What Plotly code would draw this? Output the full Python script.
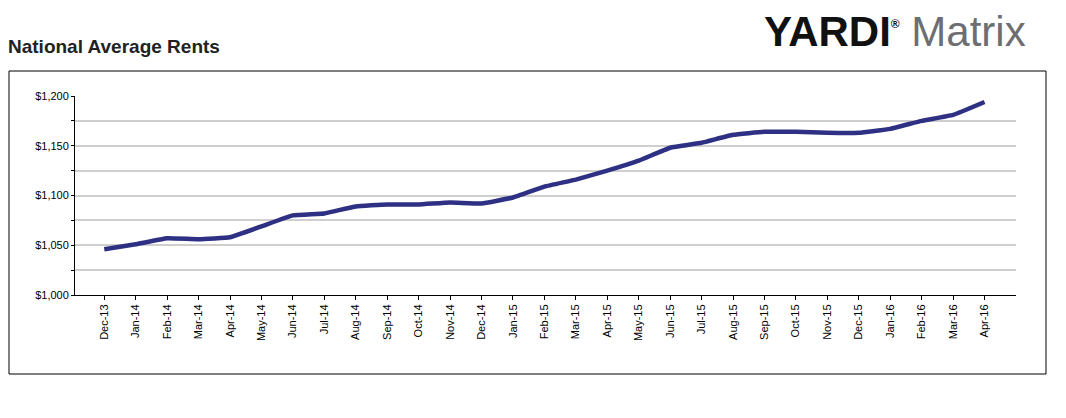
import plotly.graph_objects as go

months = ["Dec-13","Jan-14","Feb-14","Mar-14","Apr-14","May-14","Jun-14","Jul-14","Aug-14","Sep-14","Oct-14","Nov-14","Dec-14",
          "Jan-15","Feb-15","Mar-15","Apr-15","May-15","Jun-15","Jul-15","Aug-15","Sep-15","Oct-15","Nov-15","Dec-15",
          "Jan-16","Feb-16","Mar-16","Apr-16"]
rents = [1046,1051,1057,1056,1058,1069,1080,1082,1089,1091,1091,1093,1092,
         1098,1109,1116,1125,1135,1148,1153,1161,1164,1164,1163,1163,
         1167,1175,1181,1194]

fig = go.Figure(go.Scatter(x=list(range(len(months))), y=rents, mode="lines",
                           line=dict(color="#2e3083", width=4.5, shape="spline", smoothing=0.3),
                           hoverinfo="skip"))
OFF = 8
W, H = 1058, 410
L, R, T, B = 75 - OFF, 50, 96 - OFF, 123
def px(x): return (x - OFF - L) / (W - L - R)
def py(y): return (H - B - (y - OFF)) / (H - T - B)
fig.update_layout(
    width=W, height=H, margin=dict(l=L, r=R, t=T, b=B),
    paper_bgcolor="white", plot_bgcolor="white", showlegend=False,
    font=dict(family="Liberation Sans, Arial", size=11, color="black"),
    xaxis=dict(range=[-0.93, 29], tickmode="array", tickvals=list(range(len(months))), ticktext=months,
               tickangle=-90, showgrid=False, showline=True, linecolor="black", linewidth=1,
               ticks="outside", ticklen=4, tickcolor="black", zeroline=False),
    yaxis=dict(range=[1000, 1200], tickmode="array", tickvals=[1000,1025,1050,1075,1100,1125,1150,1175,1200],
               ticktext=["$1,000","","$1,050","","$1,100","","$1,150","","$1,200"],
               showgrid=True, gridcolor="#cfcfcf", gridwidth=1.5, showline=True, linecolor="black",
               ticks="outside", ticklen=3, tickcolor="black", zeroline=False),
    shapes=[dict(type="rect", xref="paper", yref="paper",
                 x0=px(9), x1=px(1046), y0=py(374), y1=py(71),
                 line=dict(color="black", width=1))],
    annotations=[
        dict(text="<b>National Average Rents</b>", xref="paper", yref="paper",
             x=px(6), y=py(46), xanchor="left", yanchor="middle",
             showarrow=False, font=dict(size=19, color="#222")),
        dict(text="<b>YARDI</b><sup><span style='font-size:12px'><b>®</b></span></sup> <span style='color:#6d6e71'>Matrix</span>",
             xref="paper", yref="paper",
             x=px(1028), y=py(32), xanchor="right", yanchor="middle",
             showarrow=False, font=dict(size=42, color="#111", family="Liberation Sans, Arial")),
    ],
)
fig.write_html("out.html")
